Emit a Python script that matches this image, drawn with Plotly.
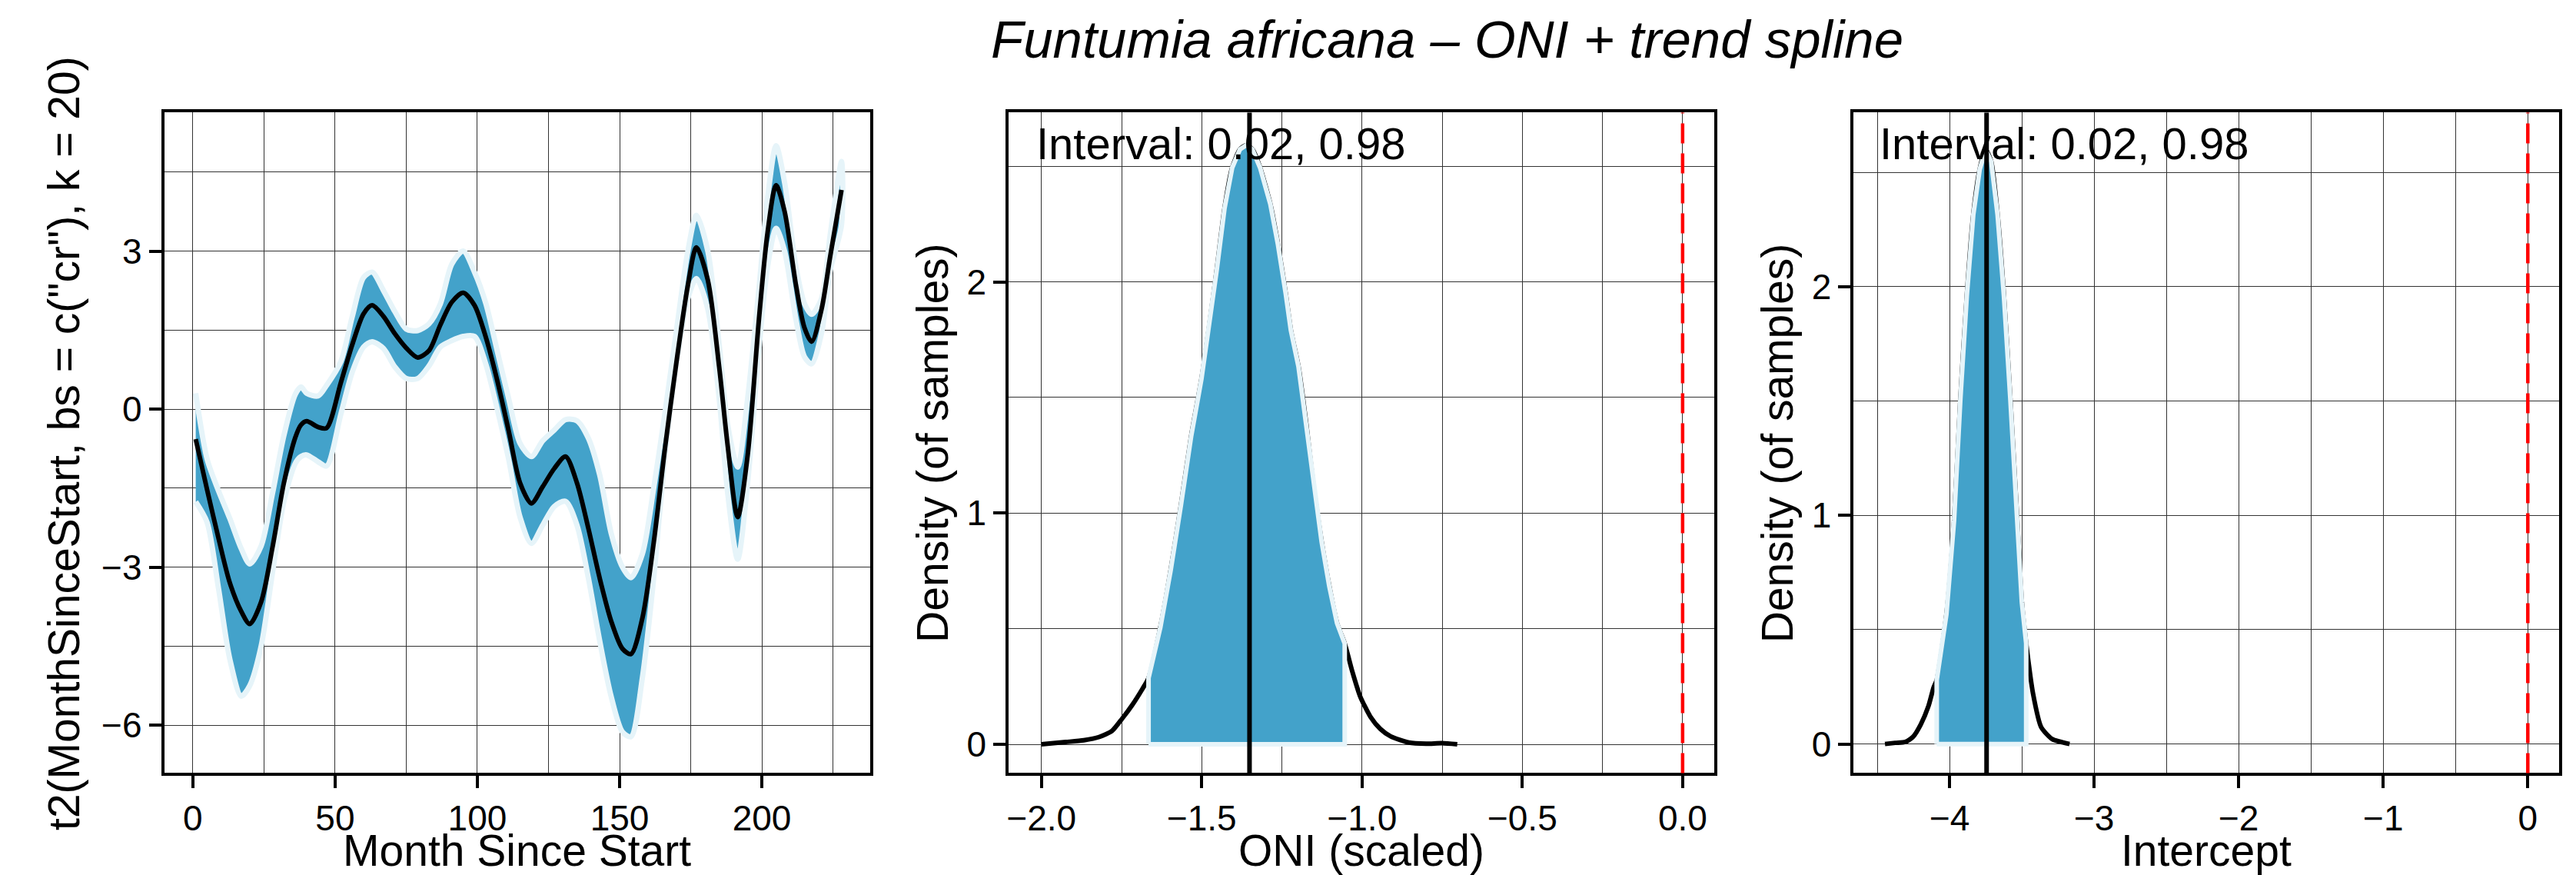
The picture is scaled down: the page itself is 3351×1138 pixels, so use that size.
import plotly.graph_objects as go

# ---------------- data ----------------
months = [1, 5, 9, 13, 17, 20, 24, 28, 32, 36, 38, 40, 44, 47, 52, 56, 60, 63, 67, 71,
          75, 79, 83, 87, 91, 95, 99, 103, 107, 111, 115, 119, 123, 127, 131, 135, 139, 143, 147, 151,
          154, 158, 162, 166, 170, 174, 177, 181, 185, 188, 191.5, 195, 199, 202, 205, 208, 212, 215, 217.5, 221,
          224, 228]
trend_mean = [-0.57, -1.53, -2.45, -3.3, -3.84, -4.08, -3.66, -2.62, -1.4, -0.54, -0.3, -0.23, -0.34, -0.36, 0.5, 1.22, 1.81, 1.97, 1.76, 1.43,
              1.16, 0.98, 1.11, 1.6, 2.03, 2.21, 1.97, 1.36, 0.54, -0.41, -1.4, -1.79, -1.47, -1.13, -0.9, -1.4, -2.26, -3.21, -4.02, -4.55,
              -4.65, -3.97, -2.53, -0.72, 0.9, 2.35, 3.07, 2.45, 0.8, -0.7, -2.05, -0.88, 1.72, 3.35, 4.25, 3.75, 2.35, 1.54, 1.28, 1.9,
              2.89, 4.16]
trend_upper = [0.3, -0.95, -1.55, -2.08, -2.65, -2.94, -2.6, -1.6, -0.5, 0.28, 0.42, 0.3, 0.25, 0.45, 0.9, 1.75, 2.5, 2.6, 2.25, 1.85,
               1.52, 1.49, 1.62, 2.0, 2.75, 3.0, 2.6, 2.0, 1.1, 0.2, -0.65, -0.9, -0.6, -0.4, -0.2, -0.22, -0.55, -1.25, -2.35, -3.0,
               -3.2, -2.75, -1.5, -0.05, 1.5, 3.0, 3.68, 3.0, 1.23, -0.3, -1.1, 0.2, 2.3, 4.0, 5.0, 4.3, 2.7, 2.0, 1.8, 2.1,
               3.3, 4.7]
trend_lower = [-1.76, -2.15, -3.4, -4.75, -5.45, -5.25, -4.5, -3.1, -1.75, -1.03, -0.9, -0.87, -1.0, -1.08, -0.1, 0.7, 1.18, 1.28, 1.15, 0.8,
               0.58, 0.58, 0.82, 1.18, 1.3, 1.38, 1.38, 0.85, 0.0, -0.95, -2.05, -2.55, -2.2, -1.85, -1.75, -2.2, -3.2, -4.4, -5.45, -6.13,
               -6.22, -5.1, -3.2, -0.85, 0.9, 2.1, 2.48, 1.9, 0.2, -1.6, -2.85, -1.4, 1.15, 2.7, 3.43, 3.0, 1.7, 0.99, 0.86, 1.45,
               2.62, 3.5]

oni_x = [-2.0, -1.924, -1.868, -1.82, -1.78, -1.749, -1.717, -1.685, -1.666, -1.629, -1.597, -1.565, -1.533, -1.501,
         -1.477, -1.453, -1.429, -1.405, -1.381, -1.361, -1.342, -1.318, -1.286, -1.262, -1.238, -1.222, -1.198,
         -1.174, -1.15, -1.126, -1.102, -1.078, -1.054, -1.03, -1.006, -0.974, -0.943, -0.911, -0.854, -0.8, -0.75, -0.703]
oni_dens = [0.0, 0.01, 0.018, 0.032, 0.058, 0.11, 0.17, 0.24, 0.287, 0.507, 0.753, 1.034, 1.333, 1.58,
            1.808, 2.055, 2.318, 2.494, 2.573, 2.591, 2.573, 2.494, 2.336, 2.16, 1.949, 1.791, 1.632,
            1.386, 1.105, 0.876, 0.683, 0.524, 0.436, 0.313, 0.208, 0.12, 0.067, 0.035, 0.008, 0.003, 0.005, 0.0]
oni_mean = -1.351
oni_interval = [-1.666, -1.054]

int_x = [-4.447, -4.376, -4.305, -4.252, -4.199, -4.146, -4.111, -4.089, -4.022, -3.969, -3.925, -3.881, -3.836,
         -3.792, -3.751, -3.712, -3.668, -3.624, -3.58, -3.535, -3.5, -3.47, -3.422, -3.366, -3.291, -3.17]
int_dens = [0.0, 0.005, 0.009, 0.032, 0.086, 0.166, 0.246, 0.28, 0.567, 0.978, 1.513, 1.959, 2.315,
            2.512, 2.6, 2.547, 2.315, 1.959, 1.513, 1.013, 0.62, 0.44, 0.218, 0.073, 0.022, 0.0]
int_mean = -3.744
int_interval = [-4.089, -3.47]

interval_label = "Interval: 0.02, 0.98"
title_text = "Funtumia africana \u2013 ONI + trend spline"

# ---------------- style ----------------
BLUE = "#43A2CA"
PALE = "#E6F4F9"
GRID = "#333333"
FONT = "Liberation Sans, Arial, Helvetica, sans-serif"
W, H = 3351, 1138

fig = go.Figure()

# Panel 1: trend spline ribbon + mean
fig.add_trace(go.Scatter(
    x=months + months[::-1], y=trend_upper + trend_lower[::-1],
    fill="toself", fillcolor=BLUE, mode="lines",
    line=dict(color=PALE, width=7, shape="spline", smoothing=0.8),
    xaxis="x", yaxis="y", hoverinfo="skip", showlegend=False))
fig.add_trace(go.Scatter(
    x=months, y=trend_mean, mode="lines",
    line=dict(color="black", width=6, shape="spline", smoothing=0.8),
    xaxis="x", yaxis="y", showlegend=False))


def density_panel(xs, ds, interval, xa, ya):
    fig.add_trace(go.Scatter(
        x=xs, y=ds, mode="lines", line=dict(color="black", width=6, shape="spline", smoothing=0.6),
        xaxis=xa, yaxis=ya, showlegend=False))
    fx = [x for x in xs if interval[0] <= x <= interval[1]]
    fy = [d for x, d in zip(xs, ds) if interval[0] <= x <= interval[1]]
    fig.add_trace(go.Scatter(
        x=[fx[0]] + fx + [fx[-1], fx[0]], y=[0] + fy + [0, 0],
        fill="toself", fillcolor=BLUE, mode="lines",
        line=dict(color=PALE, width=6),
        xaxis=xa, yaxis=ya, hoverinfo="skip", showlegend=False))


density_panel(oni_x, oni_dens, oni_interval, "x2", "y2")
density_panel(int_x, int_dens, int_interval, "x3", "y3")

# mean lines and zero reference lines
for xa, ya, m in (("x2", "y2", oni_mean), ("x3", "y3", int_mean)):
    fig.add_shape(type="line", xref=xa, yref=ya + " domain", x0=m, x1=m, y0=0, y1=1,
                  line=dict(color="black", width=6), layer="above")
    fig.add_shape(type="line", xref=xa, yref=ya + " domain", x0=0, x1=0, y0=0, y1=1,
                  line=dict(color="#FF0000", width=4.5, dash="26px,13px"), layer="above")

# ---------------- axes ----------------
ytop, ybot = 1 - 138.4 / H, 1 - 997.4 / H
doms = [(202.7 / W, 1121.7 / W), (1302.2 / W, 2221.2 / W), (2402.4 / W, 3320.9 / W)]

common = dict(showline=True, mirror=True, linecolor="black", linewidth=3.5,
              ticks="outside", ticklen=16, tickwidth=3.5, tickcolor="black",
              showgrid=True, gridcolor=GRID, gridwidth=1.4, zeroline=False,
              tickfont=dict(family=FONT, size=46, color="black"))


def minor(d, t0=0):
    return dict(tickmode="linear", tick0=t0, dtick=d, showgrid=True, gridcolor=GRID, gridwidth=1.4, ticks="")


fig.update_layout(
    xaxis=dict(domain=doms[0], range=[-10.1, 238], tickvals=[0, 50, 100, 150, 200], minor=minor(25), anchor="y", **common),
    yaxis=dict(domain=[ybot, ytop], range=[-6.91, 5.63], tickvals=[-6, -3, 0, 3], minor=minor(1.5), anchor="x", **common),
    xaxis2=dict(domain=doms[1], range=[-2.1025, 0.0992], tickvals=[-2, -1.5, -1, -0.5, 0], tickformat=".1f",
                minor=minor(0.25), anchor="y2", **common),
    yaxis2=dict(domain=[ybot, ytop], range=[-0.124, 2.732], tickvals=[0, 1, 2], minor=minor(0.5), anchor="x2", **common),
    xaxis3=dict(domain=doms[2], range=[-4.664, 0.216], tickvals=[-4, -3, -2, -1, 0], minor=minor(0.5), anchor="y3", **common),
    yaxis3=dict(domain=[ybot, ytop], range=[-0.127, 2.761], tickvals=[0, 1, 2], minor=minor(0.5), anchor="x3", **common),
)

# ---------------- text ----------------
ann = []
ann.append(dict(text="<i>" + title_text + "</i>", x=1873 / W, y=1 - 44 / H, xref="paper", yref="paper",
                xanchor="center", yanchor="middle", showarrow=False,
                font=dict(family=FONT, size=69, color="black")))
for (d0, d1), t in zip(doms, ["Month Since Start", "ONI (scaled)", "Intercept"]):
    ann.append(dict(text=t, x=(d0 + d1) / 2, y=1 - 1098 / H, xref="paper", yref="paper",
                    xanchor="center", yanchor="middle", showarrow=False, borderpad=0,
                    font=dict(family=FONT, size=57, color="black")))
ylabels = ['t2(MonthSinceStart, bs = c("cr"), k = 20)', "Density (of samples)", "Density (of samples)"]
for xc, t in zip([72 / W, 1203 / W, 2303.4 / W], ylabels):
    ann.append(dict(text=t, x=xc, y=1 - 568 / H, xref="paper", yref="paper", textangle=-90,
                    xanchor="center", yanchor="middle", showarrow=False,
                    font=dict(family=FONT, size=57, color="black")))
for xa, x0 in (("x2", oni_x[0]), ("x3", int_x[0])):
    ann.append(dict(text=interval_label, x=x0, y=1 - 178.2 / H, xref=xa, yref="paper",
                    xanchor="left", yanchor="middle", showarrow=False, borderpad=0, xshift=-8,
                    font=dict(family=FONT, size=58, color="black")))

fig.update_layout(
    annotations=ann, width=W, height=H, margin=dict(l=0, r=0, t=0, b=0),
    paper_bgcolor="white", plot_bgcolor="white", showlegend=False,
    font=dict(family=FONT, color="black"),
)

fig.write_html("out.html")
